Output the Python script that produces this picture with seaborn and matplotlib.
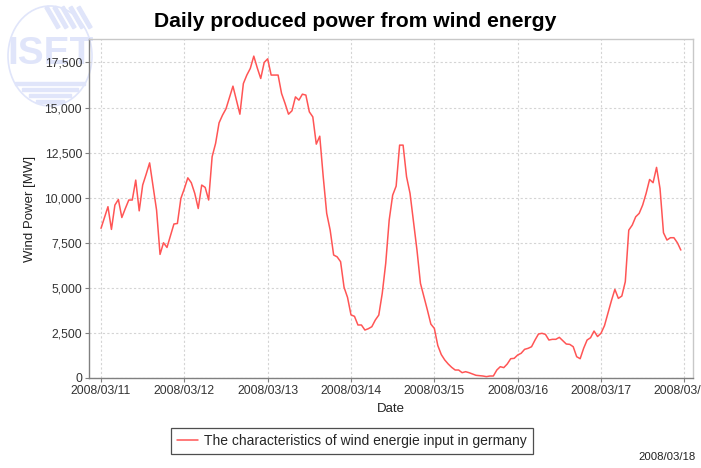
import numpy as np
import pandas as pd
import matplotlib
matplotlib.use("Agg")
import matplotlib.pyplot as plt
import matplotlib.dates as mdates
import matplotlib.ticker as mticker
from matplotlib.patches import Ellipse, Rectangle
import seaborn as sns

# ---- data (hourly wind power, MW) ----
start_date = "2008-03-11"
power_mw = [
    8300, 8900, 9500, 8240, 9590, 9900, 8900, 9400, 9870, 9870,
    10975, 9270, 10700, 11300, 11930, 10600, 9310, 6855, 7500, 7240,
    7900, 8540, 8570, 9960, 10500, 11100, 10830, 10240, 9400, 10700,
    10570, 9870, 12270, 13010, 14150, 14580, 14930, 15550, 16185, 15400,
    14630, 16330, 16800, 17170, 17850, 17200, 16610, 17500, 17700, 16800,
    16800, 16800, 15780, 15230, 14630, 14820, 15590, 15410, 15740, 15690,
    14760, 14480, 12970, 13410, 11160, 9130, 8200, 6820, 6720, 6450,
    5030, 4470, 3500, 3420, 2940, 2940, 2660, 2735, 2845, 3215,
    3490, 4695, 6360, 8760, 10140, 10640, 12915, 12915, 11160, 10240,
    8665, 7095, 5250, 4510, 3770, 2990, 2750, 1800, 1300, 1000,
    776, 590, 443, 443, 295, 350, 295, 220, 150, 130,
    110, 75, 110, 110, 443, 628, 575, 776, 1070, 1090,
    1275, 1370, 1590, 1645, 1735, 2106, 2440, 2478, 2420, 2106,
    2145, 2145, 2255, 2070, 1885, 1865, 1735, 1180, 1070, 1645,
    2106, 2235, 2605, 2300, 2480, 2900, 3585, 4285, 4915, 4415,
    4545, 5340, 8200, 8480, 8940, 9130, 9590, 10240, 11010, 10830,
    11680, 10510, 8055, 7650, 7780, 7780, 7500, 7095,
]
yticks = [0, 2500, 5000, 7500, 10000, 12500, 15000, 17500]
title = "Daily produced power from wind energy"
series_name = "The characteristics of wind energie input in germany"
x_label = "Date"
y_label = "Wind Power [MW]"
footer = "2008/03/18"

times = pd.date_range(start_date, periods=len(power_mw), freq="h")
df = pd.DataFrame({"time": times, "power": power_mw})

sns.set_style("white")
plt.rcParams["font.family"] = ["Liberation Sans", "DejaVu Sans"]

fig = plt.figure(figsize=(7.01, 4.68), dpi=100)

# watermark logo (light), in a background axes
logo_col = "#e0e5fa"
lax = fig.add_axes([5 / 701, 1 - 108 / 468, 90 / 701, 104 / 468], zorder=-5)
lax.set_xlim(0, 90)
lax.set_ylim(104, 0)
lax.axis("off")
lax.add_patch(Ellipse((45, 52), 84, 100, fill=False, ec=logo_col, lw=1.2))
for i in range(5):
    lax.add_patch(Rectangle((40 + i * 8, 4), 3.5, 24, angle=-30, color=logo_col))
for i in range(4):
    w = 70 - i * 14
    lax.add_patch(Rectangle((45 - w / 2, 78 + i * 6), w, 3, color=logo_col))
lax.text(45, 50, "ISET", fontsize=28, fontweight="bold", color=logo_col,
         ha="center", va="center")

ax = fig.add_axes([89 / 701, 90 / 468, 604 / 701, 339 / 468], zorder=1)
ax.patch.set_alpha(0)

sns.lineplot(data=df, x="time", y="power", ax=ax, color="#ff5555", lw=1.1,
             label=series_name, legend=False)

x0 = pd.Timestamp(start_date)
ax.set_xlim(x0 - pd.Timedelta(hours=3.46), x0 + pd.Timedelta(hours=170.5))
ax.set_ylim(0, 18800)
ax.set_yticks(yticks)
ax.yaxis.set_major_formatter(mticker.FuncFormatter(lambda v, p: f"{int(v):,}"))
ax.xaxis.set_major_locator(mdates.DayLocator())
ax.xaxis.set_major_formatter(mdates.DateFormatter("%Y/%m/%d"))

ax.grid(True, color="#d4d4d4", ls=(0, (2, 2)), lw=0.8)
for s in ["left", "bottom"]:
    ax.spines[s].set_color("#808080")
    ax.spines[s].set_linewidth(1.0)
for s in ["top", "right"]:
    ax.spines[s].set_color("#c8c8c8")
    ax.spines[s].set_linewidth(1.0)
ax.tick_params(axis="both", which="both", length=3, width=0.8, color="#808080",
               labelsize=8.8, labelcolor="#333333", pad=2, direction="out",
               bottom=True, left=True)

ax.set_xlabel(x_label, fontsize=9.5, color="#222222", labelpad=4)
ax.set_ylabel(y_label, fontsize=9.5, color="#222222", labelpad=6)

fig.text(0.506, 0.955, title, fontsize=15.2, fontweight="bold", ha="center",
         va="center", color="black")

handles, labels = ax.get_legend_handles_labels()
leg = fig.legend(handles, labels, loc="center", bbox_to_anchor=(0.502, 0.058),
                 frameon=True, fancybox=False, shadow=False, fontsize=10,
                 handlelength=1.5, handletextpad=0.4, borderpad=0.45,
                 borderaxespad=0)
leg.get_frame().set_edgecolor("#222222")
leg.get_frame().set_linewidth(0.9)

fig.text(0.992, 0.012, footer, fontsize=8.2, ha="right", va="bottom",
         color="#222222")

fig.savefig("out.png", dpi=100)
